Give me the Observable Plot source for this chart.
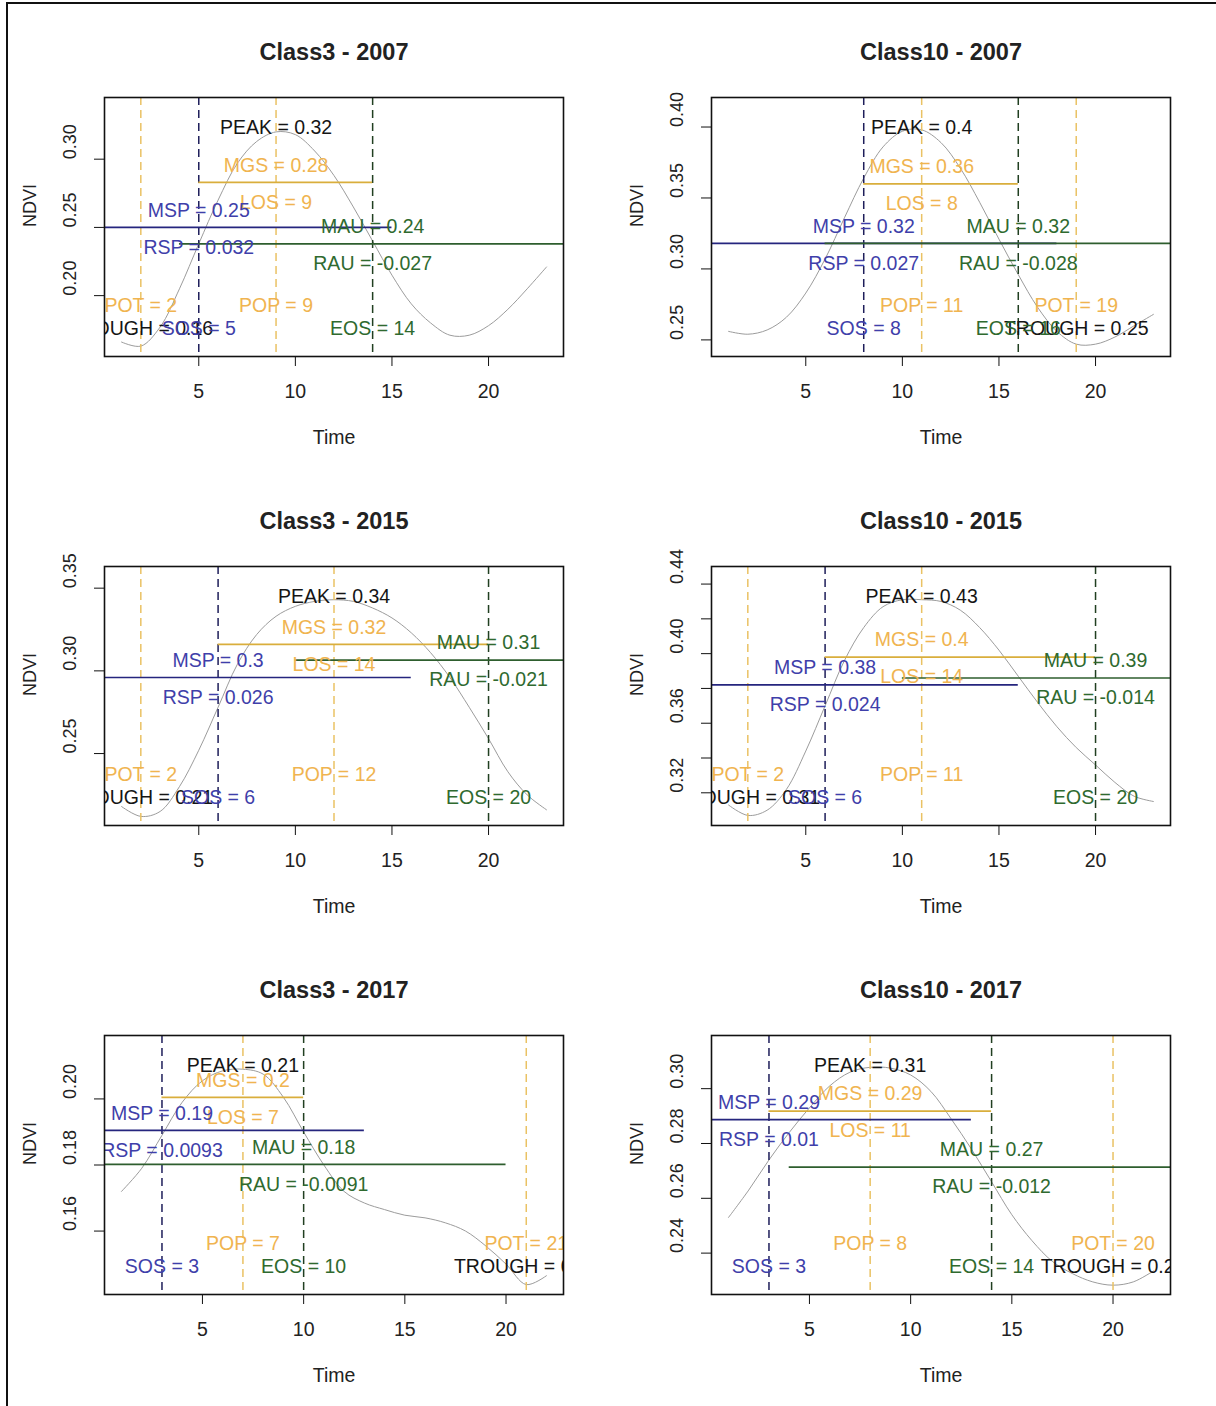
<!DOCTYPE html>
<html><head><meta charset="utf-8">
<script src="https://cdn.jsdelivr.net/npm/d3@7"></script>
<script src="https://cdn.jsdelivr.net/npm/@observablehq/plot@0.6"></script>
<style>
body{margin:0;background:#fff;}
#page{position:relative;width:1216px;height:1406px;overflow:hidden;background:#fff;}
.panel{position:absolute;width:607px;height:469px;}
.bt{position:absolute;left:6px;top:2px;right:0;height:2px;background:#111;}
.bl{position:absolute;left:6px;top:2px;bottom:0;width:2px;background:#111;}
</style></head>
<body><div id="page"><div class="bt"></div><div class="bl"></div></div>
<script>
// ---- data ----
const panelTitles = ["Class3 - 2007", "Class10 - 2007", "Class3 - 2015", "Class10 - 2015", "Class3 - 2017", "Class10 - 2017"];
const ndviClass3_2007  = [0.166,0.163,0.177,0.205,0.238,0.270,0.297,0.313,0.320,0.318,0.306,0.288,0.265,0.240,0.215,0.194,0.180,0.171,0.171,0.178,0.190,0.205,0.221];
const ndviClass10_2007 = [0.256,0.254,0.257,0.266,0.283,0.307,0.336,0.364,0.386,0.397,0.398,0.389,0.371,0.347,0.321,0.296,0.273,0.256,0.247,0.247,0.252,0.260,0.268];
const ndviClass3_2015  = [0.218,0.212,0.215,0.230,0.252,0.278,0.304,0.322,0.333,0.339,0.342,0.343,0.342,0.338,0.332,0.323,0.311,0.296,0.278,0.259,0.239,0.225,0.216];
const ndviClass10_2015 = [0.313,0.307,0.310,0.322,0.344,0.370,0.396,0.415,0.427,0.431,0.431,0.430,0.425,0.415,0.402,0.387,0.372,0.358,0.346,0.336,0.326,0.318,0.315];
const ndviClass3_2017  = [0.172,0.179,0.189,0.199,0.2055,0.2085,0.209,0.2075,0.2005,0.190,0.180,0.172,0.1685,0.1665,0.1648,0.164,0.1625,0.160,0.1555,0.150,0.1438,0.1465];
const ndviClass10_2017 = [0.253,0.263,0.274,0.284,0.293,0.301,0.306,0.3078,0.3075,0.305,0.299,0.289,0.278,0.266,0.254,0.2445,0.237,0.2325,0.2295,0.2283,0.2295,0.2335];
const ndviSeries = [ndviClass3_2007, ndviClass10_2007, ndviClass3_2015, ndviClass10_2015, ndviClass3_2017, ndviClass10_2017];

const POT = [2, 19, 2, 2, 21, 20];
const POP = [9, 11, 12, 11, 7, 8];
const SOS = [5, 8, 6, 6, 3, 3];
const EOS = [14, 16, 20, 20, 10, 14];
const LOS = [9, 8, 14, 14, 7, 11];
const PEAK = [0.32, 0.4, 0.34, 0.43, 0.21, 0.31];
const TROUGH = [0.16, 0.25, 0.21, 0.31, 0.14, 0.23];
const MGS = [0.283, 0.360, 0.316, 0.398, 0.2005, 0.2918];
const MSP = [0.250, 0.318, 0.296, 0.382, 0.1905, 0.2887];
const MAU = [0.238, 0.318, 0.3065, 0.386, 0.1802, 0.2714];
const RSP = [0.032, 0.027, 0.026, 0.024, 0.0093, 0.01];
const RAU = [-0.027, -0.028, -0.021, -0.014, -0.0091, -0.012];
const seasonHalfWindow = 10; // MSP / MAU segments span SOS±10 and EOS±10

const yLimits = [[0.1554, 0.3452], [0.2383, 0.4208], [0.2065, 0.3631], [0.3012, 0.4501], [0.1408, 0.2192], [0.2249, 0.3194]];
const yTicks = [[0.20,0.25,0.30],[0.25,0.30,0.35,0.40],[0.25,0.30,0.35],[0.32,0.34,0.36,0.38,0.40,0.42,0.44],[0.16,0.18,0.20],[0.24,0.26,0.28,0.30]];
const yTickLabels = [[0.20,0.25,0.30],[0.25,0.30,0.35,0.40],[0.25,0.30,0.35],[0.32,0.36,0.40,0.44],[0.16,0.18,0.20],[0.24,0.26,0.28,0.30]];
const xTicks = [5, 10, 15, 20];

// ---- styles ----
const C = {
  curve: "#9c9c9c",
  orangeText: "#f0b450", orangeDash: "#eac264", orangeLine: "#d9ae3c",
  blueText: "#3f3faa", navyLine: "#25257e", navyDash: "#1e1e5a",
  greenText: "#2f6a2f", greenLine: "#2e5e2e", greenDash: "#213f21",
  black: "#151515"
};
const FS = 19.5, FSR = 18, FST = 23.5;
const fmt = v => String(+(+v).toPrecision(2));

function txt(data, opts) {
  return Plot.text(data, {x: "x", text: "s", fontSize: FS, lineAnchor: "middle", clip: true, ...opts});
}

function panel(i) {
  const vals = ndviSeries[i];
  const n = vals.length;
  const pts = vals.map((v, k) => ({t: k + 1, v}));
  const pad = 0.04 * (n - 1);
  const dash = {strokeWidth: 1.5, strokeDasharray: "8,5"};
  const hl = {y: "y", x1: "x1", x2: "x2", strokeWidth: 1.7, clip: true};
  const mid = {lineAnchor: "middle"};
  return Plot.plot({
    width: 607, height: 469,
    marginLeft: 104, marginRight: 44, marginTop: 97, marginBottom: 113,
    x: {domain: [1 - pad, n + pad]},
    y: {domain: yLimits[i]},
    style: {fontFamily: "'Liberation Sans', Arial, sans-serif", fontSize: FS + "px", background: "transparent", overflow: "visible"},
    marks: [
      Plot.line(pts, {x: "t", y: "v", stroke: C.curve, strokeWidth: 1, curve: "catmull-rom", clip: true}),
      Plot.ruleX([POT[i], POP[i]], {stroke: C.orangeDash, ...dash}),
      Plot.ruleX([SOS[i]], {stroke: C.navyDash, ...dash}),
      Plot.ruleX([EOS[i]], {stroke: C.greenDash, ...dash}),
      Plot.ruleY([{y: MGS[i], x1: SOS[i], x2: EOS[i]}], {...hl, stroke: C.orangeLine}),
      Plot.ruleY([{y: MSP[i], x1: SOS[i] - seasonHalfWindow, x2: SOS[i] + seasonHalfWindow}], {...hl, stroke: C.navyLine}),
      Plot.ruleY([{y: MAU[i], x1: EOS[i] - seasonHalfWindow, x2: EOS[i] + seasonHalfWindow}], {...hl, stroke: C.greenLine}),
      // labels around horizontal lines
      txt([{x: POP[i], y: MGS[i], s: `MGS = ${fmt(MGS[i])}`}], {y: "y", dy: -17, fill: C.orangeText}),
      txt([{x: POP[i], y: MGS[i], s: `LOS = ${LOS[i]}`}], {y: "y", dy: 20, fill: C.orangeText}),
      txt([{x: SOS[i], y: MSP[i], s: `MSP = ${fmt(MSP[i])}`}], {y: "y", dy: -17, fill: C.blueText}),
      txt([{x: SOS[i], y: MSP[i], s: `RSP = ${RSP[i]}`}], {y: "y", dy: 20, fill: C.blueText}),
      txt([{x: EOS[i], y: MAU[i], s: `MAU = ${fmt(MAU[i])}`}], {y: "y", dy: -17, fill: C.greenText}),
      txt([{x: EOS[i], y: MAU[i], s: `RAU = ${RAU[i]}`}], {y: "y", dy: 20, fill: C.greenText}),
      // top / bottom labels
      txt([{x: POP[i], s: `PEAK = ${PEAK[i]}`}], {frameAnchor: "top", dy: 30, fill: C.black}),
      txt([{x: POT[i], s: `POT = ${POT[i]}`}, {x: POP[i], s: `POP = ${POP[i]}`}], {frameAnchor: "bottom", dy: -51, fill: C.orangeText}),
      txt([{x: POT[i], s: `TROUGH = ${TROUGH[i]}`}], {frameAnchor: "bottom", dy: -28, fill: C.black}),
      txt([{x: SOS[i], s: `SOS = ${SOS[i]}`}], {frameAnchor: "bottom", dy: -28, fill: C.blueText}),
      txt([{x: EOS[i], s: `EOS = ${EOS[i]}`}], {frameAnchor: "bottom", dy: -28, fill: C.greenText}),
      Plot.frame({stroke: "#111", strokeWidth: 1.6}),
      // axes
      Plot.axisX({ticks: xTicks, tickSize: 10, tickPadding: 18, tickFormat: d => String(d), label: null, fontSize: FS, stroke: "#111", fill: "#222"}),
      Plot.axisY({ticks: yTicks[i], tickSize: 10, tickFormat: () => "", label: null, stroke: "#111"}),
      Plot.text(yTickLabels[i], {y: d => d, text: d3.format(".2f"), frameAnchor: "left", dx: -34, rotate: -90, fontSize: FSR, fill: "#222", ...mid}),
      Plot.text(["Time"], {frameAnchor: "bottom", dy: 81, text: d => d, fontSize: FS, fill: "#222", ...mid}),
      Plot.text(["NDVI"], {frameAnchor: "left", dx: -74, rotate: -90, text: d => d, fontSize: FSR, fill: "#222", ...mid}),
      Plot.text([panelTitles[i]], {frameAnchor: "top", dy: -45, text: d => d, fontSize: FST, fontWeight: "bold", fill: "#222", ...mid})
    ]
  });
}

const page = document.getElementById("page");
for (let i = 0; i < 6; i++) {
  const div = document.createElement("div");
  div.className = "panel";
  div.style.left = (i % 2) * 607 + "px";
  div.style.top = Math.floor(i / 2) * 469 + "px";
  div.appendChild(panel(i));
  page.appendChild(div);
}
</script></body></html>
